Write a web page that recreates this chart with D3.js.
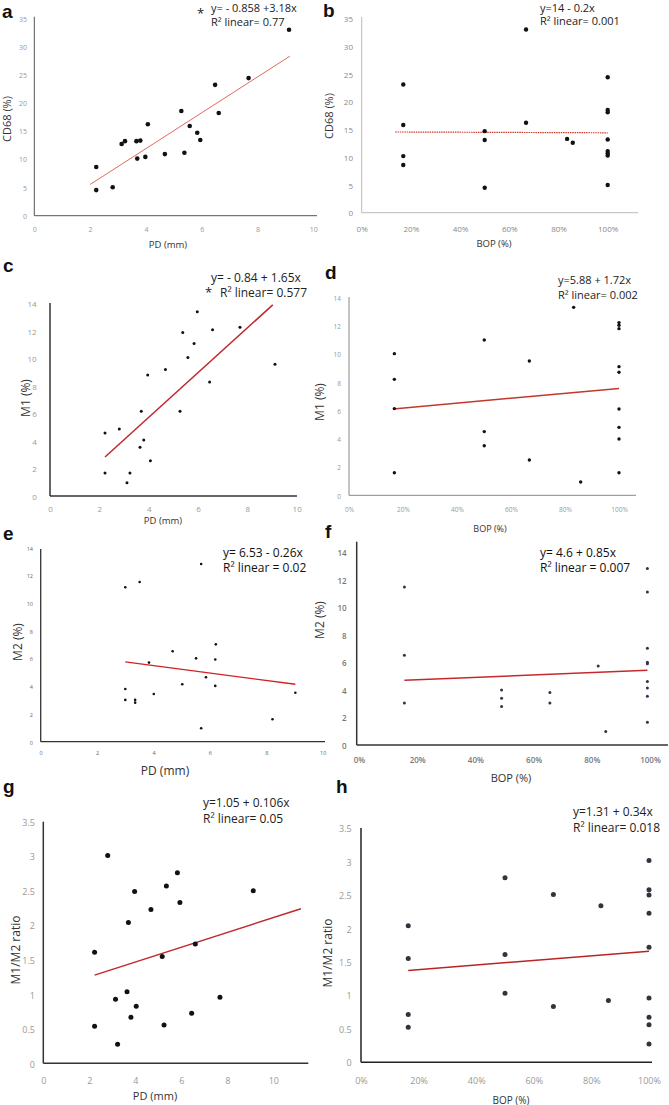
<!DOCTYPE html>
<html><head><meta charset="utf-8">
<script src="https://cdn.jsdelivr.net/npm/d3@7"></script>
<style>body{margin:0;background:#fff}svg{display:block}</style>
</head><body>
<svg id="chart" width="669" height="1105"></svg>
<script>
// ---------- tick labels ----------
const pdTicks = [0, 2, 4, 6, 8, 10];
const bopTicks = [0, 0.2, 0.4, 0.6, 0.8, 1.0];
const cd68Ticks = [0, 5, 10, 15, 20, 25, 30, 35];
const m14Ticks = [0, 2, 4, 6, 8, 10, 12, 14];
const ratioTicks = [0, 0.5, 1, 1.5, 2, 2.5, 3, 3.5];

// ---------- panel a : CD68 vs PD ----------
const pdA   = [9.13, 7.68, 6.48, 6.61, 5.27, 5.57, 5.84, 5.95, 5.38, 4.68, 4.07, 3.80, 3.66, 3.25, 3.13, 3.69, 3.98, 2.22, 2.22, 2.81];
const cd68A = [33.1, 24.5, 23.3, 18.3, 18.65, 16.0, 14.8, 13.5, 11.25, 11.0, 16.3, 13.4, 13.3, 13.3, 12.8, 10.2, 10.5, 8.7, 4.6, 5.1];
const fitAx = [2.0, 9.16], fitAy = [5.6, 28.4];
const eqA = ["y= - 0.858 +3.18x", "R² linear= 0.77"];

// ---------- panel b : CD68 vs BOP ----------
const bopB  = [0.169, 0.169, 0.169, 0.169, 0.5, 0.5, 0.5, 0.668, 0.668, 0.835, 0.858, 1, 1, 1, 1, 1, 1, 1, 1];
const cd68B = [23.2, 15.9, 10.3, 8.7, 14.8, 13.2, 4.6, 33.1, 16.3, 13.4, 12.7, 24.5, 18.6, 18.2, 13.3, 11.2, 10.8, 10.4, 5.1];
const fitBx = [0.136, 1.0], fitBy = [14.65, 14.5];
const eqB = ["y=14 - 0.2x", "R² linear= 0.001"];

// ---------- panel c : M1 vs PD ----------
const pdC = [5.97, 5.38, 6.59, 7.70, 5.84, 5.59, 4.68, 3.96, 9.12, 6.47, 3.70, 5.27, 2.23, 2.81, 3.80, 3.65, 4.07, 2.23, 3.24, 3.12];
const m1C = [13.45, 11.94, 12.14, 12.33, 11.14, 10.12, 9.25, 8.86, 9.64, 8.35, 6.21, 6.21, 4.64, 4.93, 4.13, 3.59, 2.62, 1.72, 1.72, 1.02];
const fitCx = [2.23, 9.03], fitCy = [2.89, 13.96];
const eqC = ["y= - 0.84 + 1.65x", "R² linear= 0.577"];

// ---------- panel d : M1 vs BOP ----------
const bopD = [0.168, 0.168, 0.168, 0.168, 0.501, 0.501, 0.501, 0.668, 0.668, 0.832, 0.858, 1, 1, 1, 1, 1, 1, 1, 1, 1];
const m1D  = [10.08, 8.26, 6.19, 1.65, 11.05, 4.56, 3.56, 9.56, 2.55, 13.36, 0.99, 12.28, 12.09, 11.85, 9.16, 8.76, 6.16, 4.86, 4.04, 1.65];
const fitDx = [0.164, 1.0], fitDy = [6.16, 7.62];
const eqD = ["y=5.88 + 1.72x", "R² linear= 0.002"];

// ---------- panel e : M2 vs PD ----------
const pdE = [5.69, 3.51, 3.00, 6.21, 4.68, 5.51, 6.19, 3.84, 5.86, 5.02, 6.19, 3.00, 4.01, 9.03, 3.00, 3.35, 3.35, 8.22, 5.69];
const m2E = [12.87, 11.57, 11.19, 7.07, 6.57, 6.06, 5.97, 5.75, 4.69, 4.19, 4.07, 3.85, 3.49, 3.58, 3.06, 3.06, 2.86, 1.66, 1.01];
const fitEx = [3.0, 9.03], fitEy = [5.80, 4.19];
const eqE = ["y= 6.53 - 0.26x", "R² linear = 0.02"];

// ---------- panel f : M2 vs BOP ----------
const bopF = [0.156, 0.156, 0.156, 0.49, 0.49, 0.49, 0.656, 0.656, 0.822, 0.848, 0.991, 0.991, 0.991, 0.991, 0.991, 0.991, 0.991, 0.991, 0.991];
const m2F  = [11.55, 6.58, 3.11, 4.05, 3.45, 2.86, 3.88, 3.11, 5.80, 1.04, 12.89, 11.19, 7.09, 6.07, 5.97, 4.68, 4.20, 3.59, 1.70];
const fitFx = [0.156, 0.991], fitFy = [4.76, 5.49];
const eqF = ["y= 4.6 + 0.85x", "R² linear = 0.007"];

// ---------- panel g : M1/M2 vs PD ----------
const pdG    = [2.80, 5.83, 5.35, 3.97, 9.13, 5.94, 4.68, 3.70, 2.23, 6.61, 5.17, 3.64, 3.14, 7.68, 4.04, 3.81, 6.45, 2.23, 5.25, 3.23];
const ratioG = [3.02, 2.77, 2.58, 2.50, 2.51, 2.34, 2.24, 2.05, 1.62, 1.74, 1.56, 1.05, 0.94, 0.97, 0.84, 0.68, 0.74, 0.55, 0.57, 0.29];
const fitGx = [2.23, 11.2], fitGy = [1.29, 2.25];
const eqG = ["y=1.05 + 0.106x", "R² linear= 0.05"];

// ---------- panel h : M1/M2 vs BOP ----------
const bopH   = [0.164, 0.164, 0.164, 0.164, 0.5, 0.5, 0.5, 0.668, 0.668, 0.833, 0.859, 1, 1, 1, 1, 1, 1, 1, 1, 1];
const ratioH = [2.05, 1.56, 0.72, 0.53, 2.77, 1.62, 1.04, 2.52, 0.84, 2.35, 0.93, 3.03, 2.59, 2.51, 2.24, 1.73, 0.97, 0.68, 0.57, 0.28];
const fitHx = [0.164, 1.0], fitHy = [1.38, 1.67];
const eqH = ["y=1.31 + 0.34x", "R² linear= 0.018"];

// ---------- drawing ----------
const svg = d3.select("#chart");
const FONT = "'Open Sans', 'Noto Sans', sans-serif";
const fmtNum = d => String(d);
const fmtPct = d => Math.round(d * 100) + "%";

const panels = [
  {letter:"a", lx:2, ly:18, xs:pdA, ys:cd68A, fx:fitAx, fy:fitAy, eq:eqA, xT:pdTicks, yT:cd68Ticks, xRef:10, yRef:35, xf:fmtNum,
   x0:34.3, x1:313.3, xEnd:317, y0:216, y1:19, yTop:16.7, axY:215.7, axX:34.3, axC:"#555", axW:1, tickFs:7, tickC:"#999", tickW:400,
   xPad:10.9, yPad:7.3, r:2.3, ptC:"#111", fitC:"#e06a5e", fitW:1, dash:null,
   eqX:[211, 211], eqY:[12, 26], eqFs:11, eqC:"#222", star:[197, 18],
   ylab:"CD68 (%)", ylx:7.5, yly:119, ylFs:11, xlab:"PD (mm)", xlx:168, xly:245, xlFs:9.5},
  {letter:"b", lx:323, ly:17, xs:bopB, ys:cd68B, fx:fitBx, fy:fitBy, eq:eqB, xT:bopTicks, yT:cd68Ticks, xRef:1, yRef:35, xf:fmtPct,
   x0:361.7, x1:607.7, xEnd:638, y0:213.3, y1:19, yTop:17, axY:212.7, axX:361.7, axC:"#bbb", axW:1, tickFs:8, tickC:"#888", tickW:400,
   xPad:13.5, yPad:8.7, r:2.2, ptC:"#111", fitC:"#d0392b", fitW:1.2, dash:"1.5,0.8",
   eqX:[540, 540], eqY:[12, 25], eqFs:11, eqC:"#222", star:null,
   ylab:"CD68 (%)", ylx:329, yly:116, ylFs:11, xlab:"BOP (%)", xlx:494, xly:244, xlFs:9.5},
  {letter:"c", lx:3, ly:272, xs:pdC, ys:m1C, fx:fitCx, fy:fitCy, eq:eqC, xT:pdTicks, yT:m14Ticks, xRef:10, yRef:14, xf:fmtNum,
   x0:50, x1:296.7, xEnd:297, y0:496.7, y1:304.3, yTop:303, axY:496, axX:50, axC:"#333", axW:1.5, tickFs:8, tickC:"#999", tickW:400,
   xPad:10.2, yPad:13.3, r:1.5, ptC:"#111", fitC:"#c0282d", fitW:1.5, dash:null,
   eqX:[211, 220], eqY:[282, 297], eqFs:12, eqC:"#222", star:[205, 297],
   ylab:"M1 (%)", ylx:26, yly:398, ylFs:12, xlab:"PD (mm)", xlx:163, xly:521, xlFs:9.5},
  {letter:"d", lx:325, ly:279, xs:bopD, ys:m1D, fx:fitDx, fy:fitDy, eq:eqD, xT:bopTicks, yT:m14Ticks, xRef:1, yRef:14, xf:fmtPct,
   x0:349, x1:619, xEnd:636, y0:496, y1:298.3, yTop:297, axY:495.3, axX:349, axC:"#888", axW:1, tickFs:6.5, tickC:"#999", tickW:400,
   xPad:11.7, yPad:8, r:1.7, ptC:"#111", fitC:"#c0392b", fitW:1.5, dash:null,
   eqX:[558, 558], eqY:[284, 299], eqFs:11, eqC:"#222", star:null,
   ylab:"M1 (%)", ylx:320, yly:402, ylFs:12, xlab:"BOP (%)", xlx:490, xly:529, xlFs:9},
  {letter:"e", lx:3, ly:540, xs:pdE, ys:m2E, fx:fitEx, fy:fitEy, eq:eqE, xT:pdTicks, yT:m14Ticks, xRef:10, yRef:14, xf:fmtNum,
   x0:40.7, x1:322.7, xEnd:325, y0:742.3, y1:548.3, yTop:549, axY:741.7, axX:40.7, axC:"#333", axW:1.3, tickFs:5.5, tickC:"#666", tickW:400,
   xPad:9.7, yPad:7.7, r:1.3, ptC:"#111", fitC:"#d42020", fitW:1.3, dash:null,
   eqX:[223, 223], eqY:[557, 572], eqFs:12, eqC:"#111", star:null,
   ylab:"M2 (%)", ylx:18, yly:642, ylFs:12, xlab:"PD (mm)", xlx:165, xly:771, xlFs:12},
  {letter:"f", lx:325, ly:538, xs:bopF, ys:m2F, fx:fitFx, fy:fitFy, eq:eqF, xT:bopTicks, yT:m14Ticks, xRef:1, yRef:14, xf:fmtPct,
   x0:359, x1:650, xEnd:668, y0:745.7, y1:553.3, yTop:541.7, axY:745, axX:356.7, axC:"#333", axW:1.5, tickFs:8, tickC:"#777", tickW:600,
   xPad:12.2, yPad:10, r:1.5, ptC:"#33334a", fitC:"#c8282d", fitW:1.5, dash:null,
   eqX:[540, 540], eqY:[557, 572], eqFs:12, eqC:"#111", star:null,
   ylab:"M2 (%)", ylx:320, yly:620, ylFs:12, xlab:"BOP (%)", xlx:511, xly:778, xlFs:11},
  {letter:"g", lx:3, ly:793, xs:pdG, ys:ratioG, fx:fitGx, fy:fitGy, eq:eqG, xT:pdTicks, yT:ratioTicks, xRef:10, yRef:3.5, xf:fmtNum,
   x0:43.3, x1:273.3, xEnd:308.3, y0:1064.3, y1:822.3, yTop:821.7, axY:1063.3, axX:43.3, axC:"#333", axW:1.5, tickFs:9, tickC:"#999", tickW:400,
   xPad:14.5, yPad:8.3, r:2.5, ptC:"#111", fitC:"#c0282d", fitW:1.5, dash:null,
   eqX:[203, 203], eqY:[807, 823], eqFs:12, eqC:"#222", star:null,
   ylab:"M1/M2 ratio", ylx:16, yly:950, ylFs:12, xlab:"PD (mm)", xlx:155, xly:1096, xlFs:11},
  {letter:"h", lx:336, ly:793, xs:bopH, ys:ratioH, fx:fitHx, fy:fitHy, eq:eqH, xT:bopTicks, yT:ratioTicks, xRef:1, yRef:3.5, xf:fmtPct,
   x0:361, x1:649, xEnd:652, y0:1062.7, y1:829, yTop:828, axY:1062.3, axX:361, axC:"#222", axW:1.5, tickFs:9, tickC:"#999", tickW:400,
   xPad:15.5, yPad:9.3, r:2.5, ptC:"#333340", fitC:"#b82525", fitW:1.5, dash:null,
   eqX:[573, 573], eqY:[816, 832], eqFs:12, eqC:"#222", star:null,
   ylab:"M1/M2 ratio", ylx:328, yly:953, ylFs:12, xlab:"BOP (%)", xlx:511, xly:1100, xlFs:10}
];

panels.forEach(p => {
  const g = svg.append("g").attr("class", "panel-" + p.letter);
  const x = d3.scaleLinear().domain([0, p.xRef]).range([p.x0, p.x1]);
  const y = d3.scaleLinear().domain([0, p.yRef]).range([p.y0, p.y1]);

  // axis lines
  g.append("line").attr("x1", p.axX).attr("x2", p.axX).attr("y1", p.yTop).attr("y2", p.axY)
    .attr("stroke", p.axC).attr("stroke-width", p.axW);
  g.append("line").attr("x1", p.axX).attr("x2", p.xEnd).attr("y1", p.axY).attr("y2", p.axY)
    .attr("stroke", p.axC).attr("stroke-width", p.axW);

  // tick labels
  const ya = d3.axisLeft(y).tickValues(p.yT).tickSize(0).tickPadding(p.yPad).tickFormat(fmtNum);
  const yg = g.append("g").attr("transform", `translate(${p.axX},0)`).call(ya);
  yg.select(".domain").remove();
  const xa = d3.axisBottom(x).tickValues(p.xT).tickSize(0).tickPadding(p.xPad).tickFormat(p.xf);
  const xg = g.append("g").attr("transform", `translate(0,${p.axY})`).call(xa);
  xg.select(".domain").remove();
  [yg, xg].forEach(a => a.attr("font-family", FONT).attr("font-size", p.tickFs)
    .selectAll("text").attr("fill", p.tickC).attr("font-weight", p.tickW));

  // regression line
  const fl = g.append("line")
    .attr("x1", x(p.fx[0])).attr("y1", y(p.fy[0]))
    .attr("x2", x(p.fx[1])).attr("y2", y(p.fy[1]))
    .attr("stroke", p.fitC).attr("stroke-width", p.fitW);
  if (p.dash) fl.attr("stroke-dasharray", p.dash);

  // points
  g.append("g").selectAll("circle").data(d3.zip(p.xs, p.ys)).join("circle")
    .attr("cx", d => x(d[0])).attr("cy", d => y(d[1])).attr("r", p.r).attr("fill", p.ptC);

  // equation text
  p.eq.forEach((t, i) => {
    g.append("text").attr("x", p.eqX[i]).attr("y", p.eqY[i]).text(t)
      .attr("font-family", FONT).attr("font-size", p.eqFs).attr("fill", p.eqC);
  });
  if (p.star) {
    g.append("text").attr("x", p.star[0]).attr("y", p.star[1]).text("*")
      .attr("font-family", FONT).attr("font-size", 13).attr("fill", "#222");
  }

  // axis titles
  g.append("text").attr("transform", `translate(${p.ylx},${p.yly}) rotate(-90)`)
    .attr("text-anchor", "middle").attr("dy", "0.35em").text(p.ylab)
    .attr("font-family", FONT).attr("font-size", p.ylFs).attr("fill", "#333");
  g.append("text").attr("x", p.xlx).attr("y", p.xly).attr("dy", "0.35em")
    .attr("text-anchor", "middle").text(p.xlab)
    .attr("font-family", FONT).attr("font-size", p.xlFs).attr("fill", "#333");

  // panel letter
  g.append("text").attr("x", p.lx).attr("y", p.ly).text(p.letter)
    .attr("font-family", "'Liberation Sans', Arial, sans-serif").attr("font-weight", "bold")
    .attr("font-size", 19).attr("fill", "#111");
});
</script>
</body></html>
